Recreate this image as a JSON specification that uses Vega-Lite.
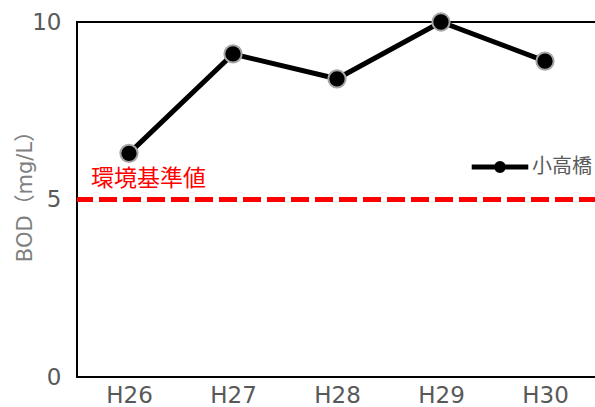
{
  "$schema": "https://vega.github.io/schema/vega-lite/v6.json",
  "width": 520,
  "height": 355,
  "autosize": {"type": "none"},
  "padding": {"left": 77, "top": 22, "right": 0, "bottom": 30},
  "background": "white",
  "config": {
    "font": "DejaVu Sans, Noto Sans CJK JP",
    "view": {"stroke": "black", "strokeWidth": 2},
    "axis": {"grid": false, "ticks": false, "domain": false, "labelColor": "#595959", "labelFontSize": 23, "labelFont": "DejaVu Sans, Noto Sans CJK JP"}
  },
  "datasets": {
    "bod": [
      {"year": "H26", "value": 6.3, "site": "小高橋"},
      {"year": "H27", "value": 9.1, "site": "小高橋"},
      {"year": "H28", "value": 8.4, "site": "小高橋"},
      {"year": "H29", "value": 10.0, "site": "小高橋"},
      {"year": "H30", "value": 8.9, "site": "小高橋"}
    ],
    "std": [{"year": "H26", "std": 5, "label": "環境基準値"}]
  },
  "layer": [
    {
      "data": {"name": "std"},
      "mark": {"type": "rule", "color": "#ff0000", "strokeWidth": 5, "strokeDash": [18, 6]},
      "encoding": {"y": {"field": "std", "type": "quantitative", "scale": {"domain": [0, 10]}}}
    },
    {
      "data": {"name": "std"},
      "mark": {"type": "text", "color": "#ff0000", "fontSize": 23, "font": "Noto Sans CJK JP", "align": "left", "baseline": "alphabetic", "dx": -38, "dy": -14},
      "encoding": {
        "x": {"field": "year", "type": "nominal", "scale": {"domain": ["H26", "H27", "H28", "H29", "H30"]}},
        "y": {"field": "std", "type": "quantitative"},
        "text": {"field": "label"}
      }
    },
    {
      "data": {"name": "bod"},
      "mark": {"type": "line", "strokeWidth": 5, "color": "black"},
      "encoding": {
        "x": {"field": "year", "type": "nominal", "sort": null, "axis": {"title": null, "labelAngle": 0, "labelAlign": "center", "labelPadding": 18}},
        "y": {"field": "value", "type": "quantitative", "scale": {"domain": [0, 10], "nice": false}, "axis": {"title": "BOD（mg/L）", "titleColor": "#7f7f7f", "titleFontSize": 21, "titleFontWeight": "normal", "titleX": -52, "titleY": 169, "titleAlign": "center", "titleBaseline": "middle", "titleAngle": -90, "values": [0, 5, 10], "labelPadding": 16}},
        "color": {"field": "site", "type": "nominal", "scale": {"range": ["black"]},
          "legend": {"title": null, "orient": "none", "legendX": 392, "legendY": 114, "symbolType": "M-1,0H-0.12M0.12,0H1M0.12,0A0.12,0.12 0 1,1 -0.12,0A0.12,0.12 0 1,1 0.12,0Z", "symbolSize": 3200, "symbolStrokeWidth": 5, "symbolFillColor": "black", "symbolStrokeColor": "black", "labelFontSize": 20, "labelFont": "Noto Sans CJK JP", "labelColor": "#595959", "labelOffset": 1,
            "encode": {"symbols": {"update": {"fill": {"value": "black"}, "stroke": {"value": "black"}}}}}
        }
      }
    },
    {
      "data": {"name": "bod"},
      "mark": {"type": "point", "filled": true, "fill": "black", "stroke": "#a6a6a6", "strokeWidth": 2, "size": 300, "opacity": 1},
      "encoding": {
        "x": {"field": "year", "type": "nominal", "sort": null},
        "y": {"field": "value", "type": "quantitative"}
      }
    }
  ]
}
